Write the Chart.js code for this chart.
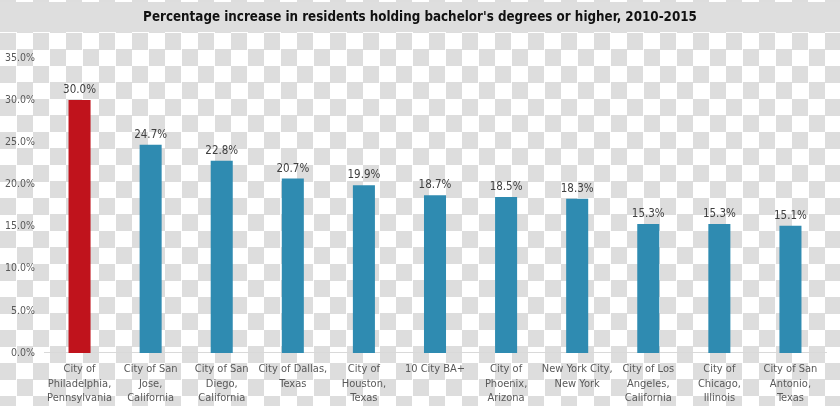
<!DOCTYPE html>
<html>
<head>
<meta charset="utf-8">
<script src="https://cdn.jsdelivr.net/npm/chart.js@4/dist/chart.umd.min.js"></script>
<style>
  html, body { margin: 0; padding: 0; }
  body {
    width: 840px; height: 406px; overflow: hidden; position: relative;
    background-color: #fff;
    background-image: conic-gradient(#fff 25%, #dddddd 0 50%, #fff 0 75%, #dddddd 0);
    background-size: 33px 33px;
    background-position: 0 0;
  }
  #band { position: absolute; left: 0; top: 2px; width: 840px; height: 30px; background: #dedede; }
  #c { position: absolute; left: 0; top: 0; }
</style>
</head>
<body>
<div id="band"></div>
<canvas id="c" width="840" height="406"></canvas>
<script>
const chartTitle = "Percentage increase in residents holding bachelor's degrees or higher, 2010-2015";
const categories = [
  ["City of", "Philadelphia,", "Pennsylvania"],
  ["City of San", "Jose,", "California"],
  ["City of San", "Diego,", "California"],
  ["City of Dallas,", "Texas"],
  ["City of", "Houston,", "Texas"],
  ["10 City BA+"],
  ["City of", "Phoenix,", "Arizona"],
  ["New York City,", "New York"],
  ["City of Los", "Angeles,", "California"],
  ["City of", "Chicago,", "Illinois"],
  ["City of San", "Antonio,", "Texas"]
];
const values = [30.0, 24.7, 22.8, 20.7, 19.9, 18.7, 18.5, 18.3, 15.3, 15.3, 15.1];
const valueLabels = ["30.0%", "24.7%", "22.8%", "20.7%", "19.9%", "18.7%", "18.5%", "18.3%", "15.3%", "15.3%", "15.1%"];
const yTickLabels = ["0.0%", "5.0%", "10.0%", "15.0%", "20.0%", "25.0%", "30.0%", "35.0%"];

const FONT = "'Liberation Sans Narrow', 'Arial Narrow', 'DejaVu Sans Condensed', 'Liberation Sans', sans-serif";
const RED = "#c0131c";
const BLUE = "#2f8bb1";

const dataLabelPlugin = {
  id: 'dataLabels',
  afterDatasetsDraw(chart) {
    const ctx = chart.ctx;
    const meta = chart.getDatasetMeta(0);
    ctx.save();
    ctx.font = "11.5px " + FONT;
    ctx.fillStyle = "#404040";
    ctx.textAlign = "center";
    ctx.textBaseline = "alphabetic";
    meta.data.forEach((bar, i) => {
      ctx.fillText(valueLabels[i], bar.x, bar.y - 7);
    });
    ctx.restore();
  }
};

new Chart(document.getElementById('c'), {
  type: 'bar',
  data: {
    labels: categories,
    datasets: [{
      data: values,
      yAxisID: 'y',
      backgroundColor: values.map((v, i) => i === 0 ? RED : BLUE),
      borderWidth: 0,
      categoryPercentage: 1.0,
      barPercentage: 0.31
    }]
  },
  options: {
    responsive: false,
    devicePixelRatio: 1,
    animation: false,
    layout: { padding: { left: 0, right: 0, top: 0, bottom: 0 } },
    plugins: {
      legend: { display: false },
      tooltip: { enabled: false },
      title: {
        display: true,
        text: chartTitle,
        color: "#111111",
        font: { family: FONT, size: 13.3, weight: 'bold', lineHeight: 1.2 },
        padding: { top: 10, bottom: 32 }
      }
    },
    scales: {
      x: {
        grid: { display: false, drawTicks: false },
        border: { display: true, color: "#d9d9d9", width: 1 },
        ticks: {
          color: "#595959",
          font: { family: FONT, size: 11, lineHeight: 1.32 },
          padding: 9,
          maxRotation: 0,
          autoSkip: false
        },
        afterFit(s) { s.height = 53; }
      },
      y: {
        position: 'left',
        min: 0, max: 35,
        grid: { display: false, drawTicks: false },
        border: { display: false },
        ticks: {
          stepSize: 5,
          color: "#595959",
          font: { family: FONT, size: 10.5 },
          padding: 9,
          callback: (v, i) => yTickLabels[i]
        },
        afterFit(s) { s.width = 44; }
      },
      yRight: {
        position: 'right',
        min: 0, max: 35,
        grid: { display: false, drawTicks: false },
        border: { display: false },
        ticks: { display: false },
        afterFit(s) { s.width = 14; }
      }
    }
  },
  plugins: [dataLabelPlugin]
});
</script>
</body>
</html>
